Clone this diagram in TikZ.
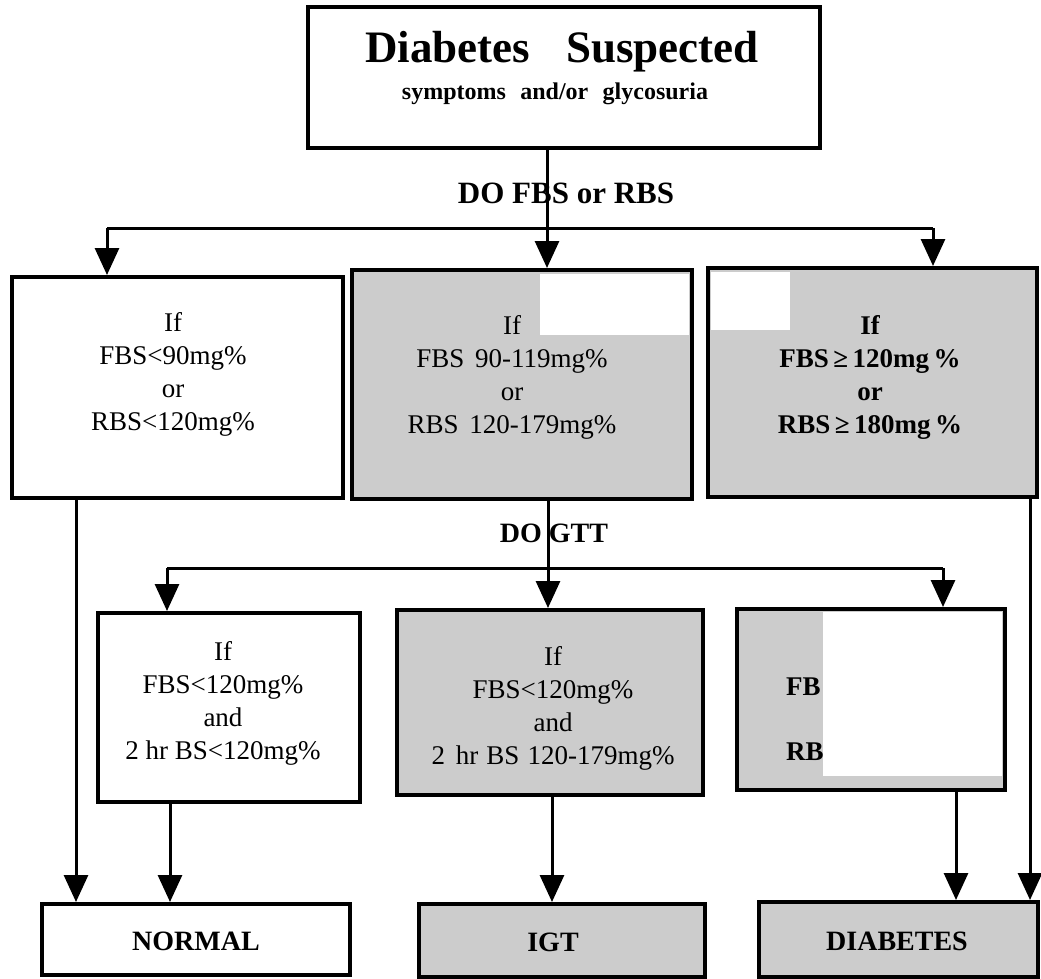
\documentclass[tikz,border=0pt]{standalone}
\usepackage{fontspec}
\setmainfont{Liberation Serif}
\usetikzlibrary{arrows.meta}

\begin{document}
\begin{tikzpicture}[x=1pt, y=-1pt,
  box/.style={draw, line width=4pt, inner sep=0pt},
  shaded/.style={box, fill=black!20},
  conn/.style={line width=3pt},
  arr/.style={conn, -{Triangle[width=24pt,length=27pt]}},
  txt/.style={font=\fontsize{27}{33}\selectfont, align=center, inner sep=0pt},
  head/.style={font=\bfseries\fontsize{30}{36}\selectfont, anchor=base, inner sep=0pt},
  result/.style={font=\bfseries\fontsize{28}{34}\selectfont, inner sep=0pt}]

\useasboundingbox (0,0) rectangle (1041,979);

% ── Sospecha ──────────────────────────────────────────────────
\node[box, minimum width=512pt, minimum height=141pt] (susp) at (564,77.5) {};
\node[font=\bfseries\fontsize{45}{54}\selectfont, anchor=base, inner sep=0pt]
  (titulo) at (562,63) {Diabetes\hspace{0.8em}Suspected};
\node[font=\bfseries\fontsize{24}{29}\selectfont, anchor=base, inner sep=0pt]
  (sintomas) at (555,100) {symptoms\hspace{0.6em}and/or\hspace{0.6em}glycosuria};

% ── Primera prueba (FBS / RBS) ────────────────────────────────
\node[box,    minimum width=331pt, minimum height=221pt] (fbsA) at (177.5,387.5) {};
\node[shaded, minimum width=340pt, minimum height=229pt] (fbsB) at (522,384.5) {};
\node[shaded, minimum width=329pt, minimum height=229pt] (fbsC) at (872.5,382.5) {};

% zonas borradas del original
\fill[white] (540,274) rectangle (689,335);
\fill[white] (711,272) rectangle (790,330);

\node[txt] (fbsAt) at (173,374) {If\\FBS<90mg\%\\or\\RBS<120mg\%};
\node[txt] (fbsBt) at (512,377) {If\\FBS\hspace{0.4em}90-119mg\%\\or\\RBS\hspace{0.4em}120-179mg\%};
\node[txt, font=\bfseries\fontsize{27}{33}\selectfont]
  (fbsCt) at (870,377) {If\\FBS\,≥\,120mg\,\%\\or\\RBS\,≥\,180mg\,\%};

% ── GTT ───────────────────────────────────────────────────────
\node[box,    minimum width=262pt, minimum height=189pt] (gttA) at (229,707.5) {};
\node[shaded, minimum width=306pt, minimum height=185pt] (gttB) at (550,702.5) {};
\node[shaded, minimum width=268pt, minimum height=181pt] (gttC) at (871,699.5) {};

\fill[white] (823,612) rectangle (1002,776);

\node[txt] (gttAt) at (223,703) {If\\FBS<120mg\%\\and\\2 hr BS<120mg\%};
\node[txt] (gttBt) at (553,708) {If\\FBS<120mg\%\\and\\2\hspace{0.4em}hr\hspace{0.3em}BS\hspace{0.3em}120-179mg\%};
\node[font=\bfseries\fontsize{27}{33}\selectfont, anchor=base west, inner sep=0pt]
  (gttCa) at (786,695) {FB};
\node[font=\bfseries\fontsize{27}{33}\selectfont, anchor=base west, inner sep=0pt]
  (gttCb) at (786,760) {RB};

% ── Resultados ────────────────────────────────────────────────
\node[box,    minimum width=308pt, minimum height=71pt] (normal) at (196,939.5) {};
\node[shaded, minimum width=286pt, minimum height=73pt] (igt)    at (562,940.5) {};
\node[shaded, minimum width=279pt, minimum height=75pt] (diab)   at (898.5,939.5) {};

\node[result] (normalt) at (196,941) {NORMAL};
\node[result] (igtt)    at (553,942) {IGT};
\node[result] (diabt)   at (897,941) {DIABETES};

% ── Conectores ────────────────────────────────────────────────
\coordinate (r1a) at (107,228);
\coordinate (r1b) at (547,228);
\coordinate (r1c) at (933,228);
\draw[conn] (susp.south -| r1b) -- (r1b);
\draw[conn] (r1a) -- (r1c);
\draw[arr] (r1a) -- (r1a |- fbsA.north);
\draw[arr] (r1b) -- (r1b |- fbsB.north);
\draw[arr] (r1c) -- (r1c |- fbsC.north);
\node[head, font=\bfseries\fontsize{31}{37}\selectfont] (dofbs) at (566,203) {DO FBS or RBS};

\coordinate (r2a) at (167,568);
\coordinate (r2b) at (548,568);
\coordinate (r2c) at (943,568);
\draw[conn] (fbsB.south -| r2b) -- (r2b);
\draw[conn] (r2a) -- (r2c);
\draw[arr] (r2a) -- (r2a |- gttA.north);
\draw[arr] (r2b) -- (r2b |- gttB.north);
\draw[arr] (r2c) -- (r2c |- gttC.north);
\node[head, font=\bfseries\fontsize{28}{34}\selectfont] (dogtt) at (554,542) {DO GTT};

\coordinate (s1) at (76,0);
\coordinate (s2) at (170,0);
\coordinate (s3) at (552,0);
\coordinate (s4) at (956,0);
\coordinate (s5) at (1030,0);
\draw[arr] (fbsA.south -| s1) -- (normal.north -| s1);
\draw[arr] (gttA.south -| s2) -- (normal.north -| s2);
\draw[arr] (gttB.south -| s3) -- (igt.north -| s3);
\draw[arr] (gttC.south -| s4) -- (diab.north -| s4);
\draw[arr] (fbsC.south -| s5) -- (diab.north -| s5);

\end{tikzpicture}
\end{document}
